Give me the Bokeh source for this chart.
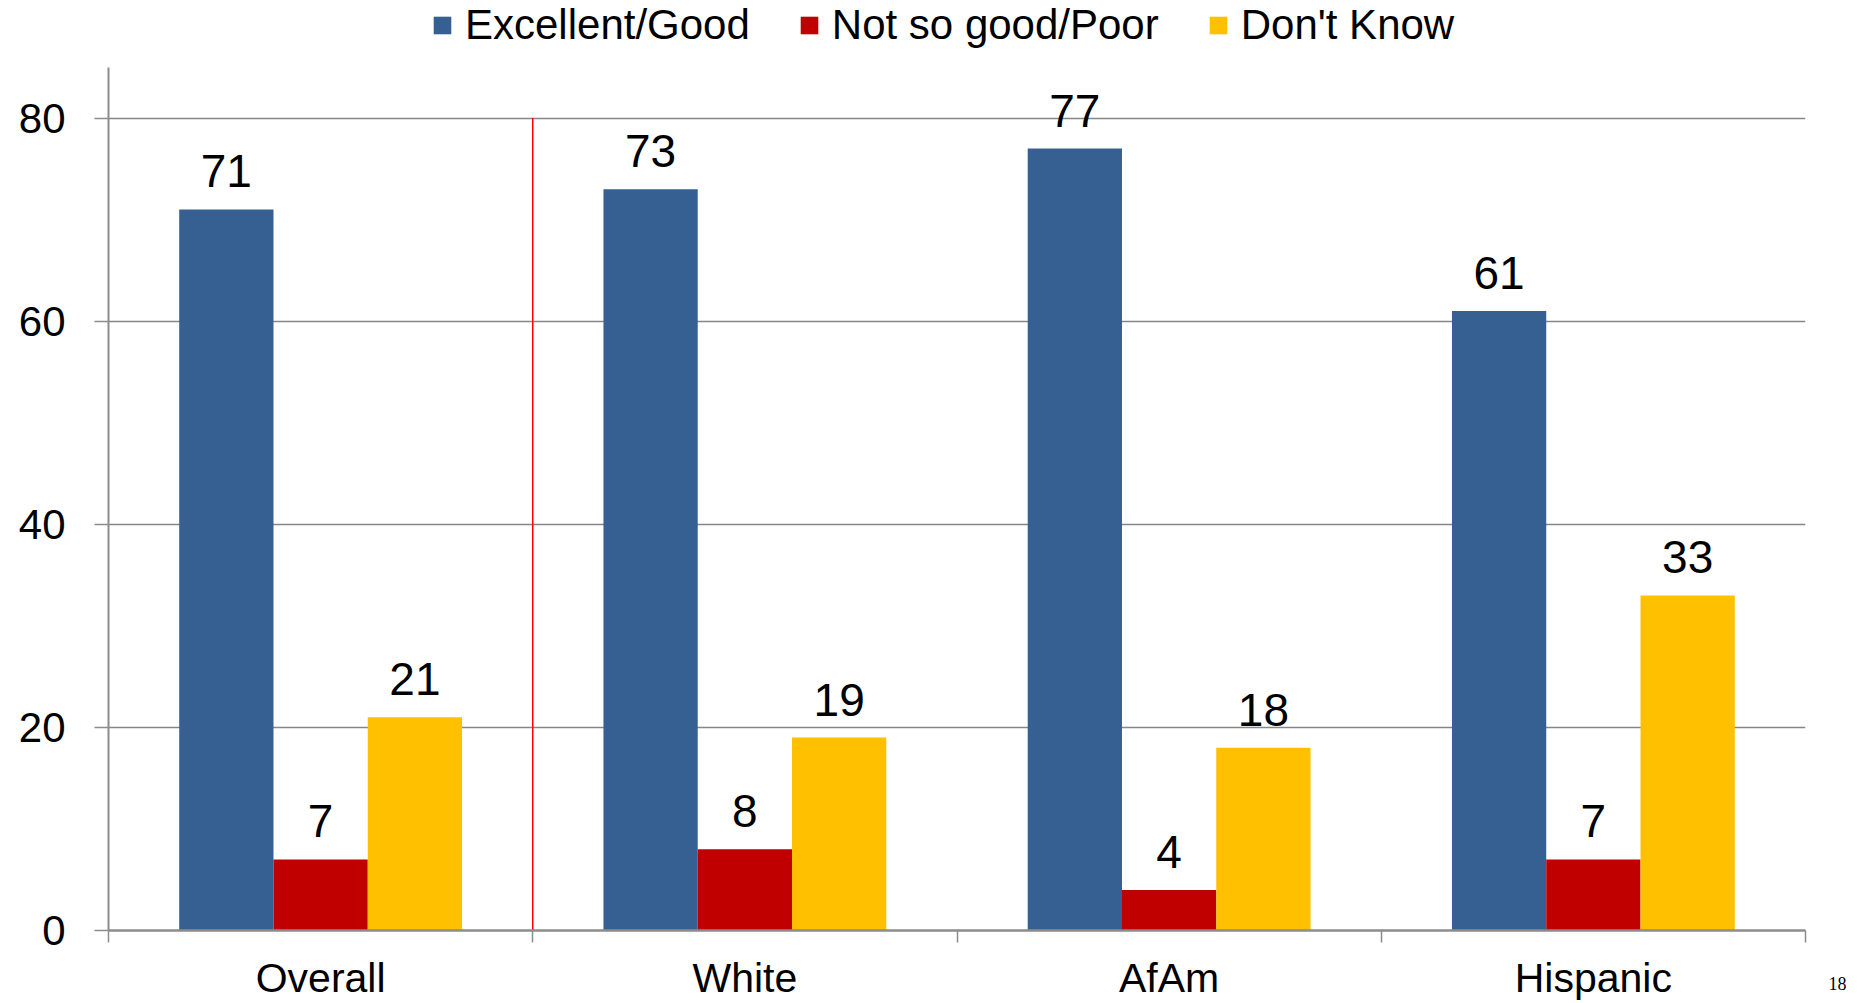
from bokeh.plotting import figure
from bokeh.models import (FixedTicker, Legend, LegendItem, Label, ColumnDataSource, Range1d)
from bokeh.core.properties import value
from bokeh.embed import file_html
from bokeh.resources import INLINE

# ---- data ----
categories = ["Overall", "White", "AfAm", "Hispanic"]
series_names = ["Excellent/Good", "Not so good/Poor", "Don't Know"]
excellent_good = [71, 73, 77, 61]
not_so_good_poor = [7, 8, 4, 7]
dont_know = [21, 19, 18, 33]
y_ticks = [0, 20, 40, 60, 80]
y_axis_max = 85
y_view_max = 91.58   # headroom above the axis for the legend
divider_after = "Overall"
slide_number = "18"

colors = ["#366092", "#C00000", "#FFC000"]
FONT = "Liberation Sans"

p = figure(width=1862, height=1003, output_backend="svg", toolbar_location=None,
           x_range=Range1d(0, len(categories)), y_range=Range1d(0, y_view_max),
           min_border_left=108, min_border_right=57, min_border_top=0, min_border_bottom=70)
p.outline_line_color = None
p.background_fill_color = "white"

bw = 1 / 4.5
series_values = [excellent_good, not_so_good_poor, dont_know]
renderers = []
for k, (name, vals, col) in enumerate(zip(series_names, series_values, colors)):
    xs = [i + 0.5 + (k - 1) * bw for i in range(len(categories))]
    src = ColumnDataSource(dict(x=xs, top=vals, label=[str(v) for v in vals]))
    r = p.vbar(x="x", top="top", width=bw, source=src, fill_color=col, line_color=None)
    p.text(x="x", y="top", text="label", source=src, text_align="center",
           text_baseline="alphabetic", y_offset=-38, text_font=value(FONT),
           text_font_size="46px", text_color="black")
    renderers.append(r)

# red divider after the "Overall" group
dx = categories.index(divider_after) + 1
p.segment(x0=[dx], y0=[0], x1=[dx], y1=[y_ticks[-1]], line_color="#FF0000", line_width=1.5)

# x axis: labels at centers, tick marks at boundaries
p.xaxis.ticker = FixedTicker(ticks=[i + 0.5 for i in range(len(categories))],
                             minor_ticks=list(range(len(categories) + 1)))
p.xaxis.major_label_overrides = {i + 0.5: c for i, c in enumerate(categories)}
p.xaxis.major_tick_out = 0
p.xaxis.major_tick_in = 0
p.xaxis.minor_tick_out = 12
p.xaxis.minor_tick_in = 0
p.xaxis.minor_tick_line_color = "#8c8c8c"
p.xaxis.minor_tick_line_width = 1.5
p.xaxis.axis_line_color = "#8c8c8c"
p.xaxis.axis_line_width = 2.5
p.xaxis.major_label_text_font = FONT
p.xaxis.major_label_text_font_size = "41px"
p.xaxis.major_label_text_color = "black"
p.xaxis.major_label_standoff = 12
p.xgrid.visible = False

p.yaxis.ticker = FixedTicker(ticks=y_ticks)
p.yaxis.bounds = (0, y_axis_max)
p.yaxis.major_tick_out = 14
p.yaxis.major_tick_in = 0
p.yaxis.major_tick_line_color = "#8c8c8c"
p.yaxis.major_tick_line_width = 1.5
p.yaxis.minor_tick_line_color = None
p.yaxis.axis_line_color = "#8c8c8c"
p.yaxis.axis_line_width = 2
p.yaxis.major_label_text_font = FONT
p.yaxis.major_label_text_font_size = "42px"
p.yaxis.major_label_text_color = "black"
p.yaxis.major_label_standoff = 29
p.ygrid.grid_line_color = "#868686"
p.ygrid.grid_line_width = 1.5

legend = Legend(items=[LegendItem(label=n, renderers=[r]) for n, r in zip(series_names, renderers)],
                orientation="horizontal", location=(323, 881), glyph_width=22, glyph_height=22,
                label_standoff=12, spacing=48, padding=0, margin=0,
                border_line_color=None, background_fill_alpha=0,
                label_text_font=FONT, label_text_font_size="42px", label_text_color="black")
p.add_layout(legend, "center")

p.add_layout(Label(x=32, y=-53, x_units="screen", y_units="screen", text=slide_number,
                   text_font="Liberation Serif", text_font_size="18px",
                   text_align="center", text_baseline="alphabetic", text_color="black"), "right")

open("out.html", "w").write(file_html(p, INLINE))
